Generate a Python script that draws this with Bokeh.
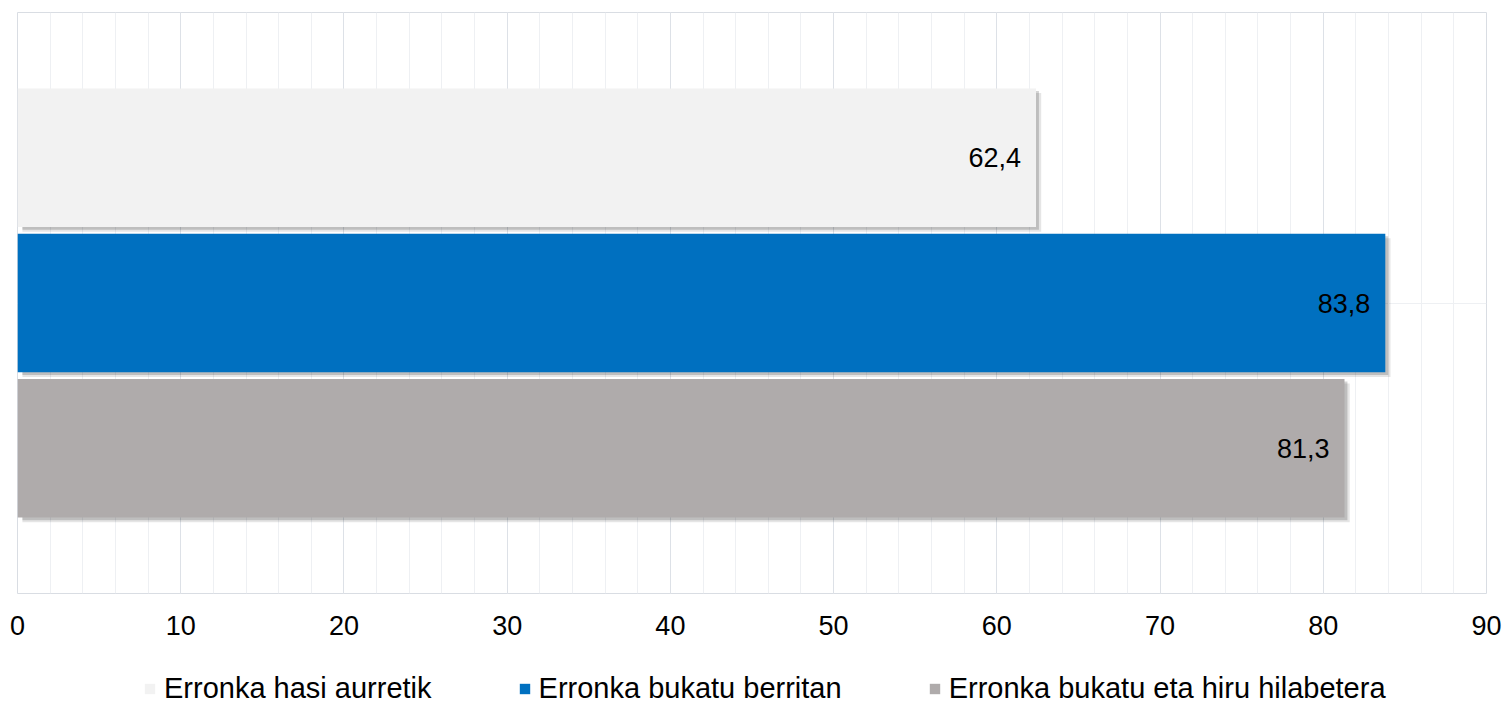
from bokeh.plotting import figure
from bokeh.layouts import column
from bokeh.models import Range1d, FixedTicker, Legend, LegendItem
from bokeh.core.properties import value
from bokeh.embed import file_html
from bokeh.resources import INLINE

series = ["Erronka hasi aurretik", "Erronka bukatu berritan", "Erronka bukatu eta hiru hilabetera"]
values = [62.4, 83.8, 81.3]
value_labels = ["62,4", "83,8", "81,3"]
colors = ["#F2F2F2", "#0070C0", "#AFABAB"]
positions = [3, 2, 1]
x_ticks = [0, 10, 20, 30, 40, 50, 60, 70, 80, 90]
minor_ticks = list(range(0, 91, 2))

FONT = "Liberation Sans"
BAR_H = 0.955

# ---- main chart ----
p = figure(width=1504, height=655, x_range=Range1d(0, 90), y_range=Range1d(0, 4),
           output_backend="svg", toolbar_location=None,
           min_border_left=17, min_border_right=18, min_border_top=12, min_border_bottom=62)
p.background_fill_color = "white"
p.border_fill_color = "white"
p.outline_line_color = "#D9DDE3"

p.yaxis.visible = False
p.ygrid.ticker = FixedTicker(ticks=[2])
p.ygrid.grid_line_color = "#EEF0F3"

p.xaxis.ticker = FixedTicker(ticks=x_ticks, minor_ticks=minor_ticks)
p.xgrid.grid_line_color = "#DDE1E7"
p.xgrid.minor_grid_line_color = "#EEF0F3"
p.xaxis.axis_line_color = None
p.xaxis.major_tick_line_color = None
p.xaxis.minor_tick_line_color = None
p.xaxis.major_label_standoff = 16
p.xaxis.major_label_text_font = FONT
p.xaxis.major_label_text_font_size = "27px"
p.xaxis.major_label_text_color = "#000000"

# soft shadows (offset right/down), derived from the data
for dx, dy, a in [(0.32, 0.032, 0.10), (0.18, 0.018, 0.17)]:
    p.hbar(y=[y - dy for y in positions], left=0.3, right=[v + dx for v in values],
           height=BAR_H, fill_color="black", fill_alpha=a, line_color=None)

for v, c, y in zip(values, colors, positions):
    p.hbar(y=[y], left=0, right=[v], height=BAR_H, fill_color=c, line_color=None)

p.text(x=values, y=positions, text=value_labels, x_offset=-15, text_align="right",
       text_baseline="middle", text_font=value(FONT), text_font_size="27px", text_color="#000000")

# ---- legend strip (same series; its bars lie far outside this strip's view) ----
lg = figure(width=1504, height=50, x_range=Range1d(-1001, -1000), y_range=Range1d(100, 104),
            output_backend="svg", toolbar_location=None,
            min_border_left=0, min_border_right=0, min_border_top=0, min_border_bottom=0)
lg.axis.visible = False
lg.grid.visible = False
lg.outline_line_color = None
lg.background_fill_color = "white"
lg.border_fill_color = "white"

items = []
for s, v, c, y in zip(series, values, colors, positions):
    r = lg.hbar(y=[y], left=0, right=[v], height=BAR_H, fill_color=c, line_color=None)
    items.append(LegendItem(label=s, renderers=[r]))

legend = Legend(items=items, orientation="horizontal", location=(126, 0),
                glyph_width=13, glyph_height=13, label_standoff=8, spacing=86,
                label_text_font=FONT, label_text_font_size="29px", label_text_color="#000000",
                border_line_color=None, background_fill_alpha=0, padding=0, margin=0)
lg.add_layout(legend)

layout = column(p, lg, spacing=0)
open("out.html", "w").write(file_html(layout, INLINE))
